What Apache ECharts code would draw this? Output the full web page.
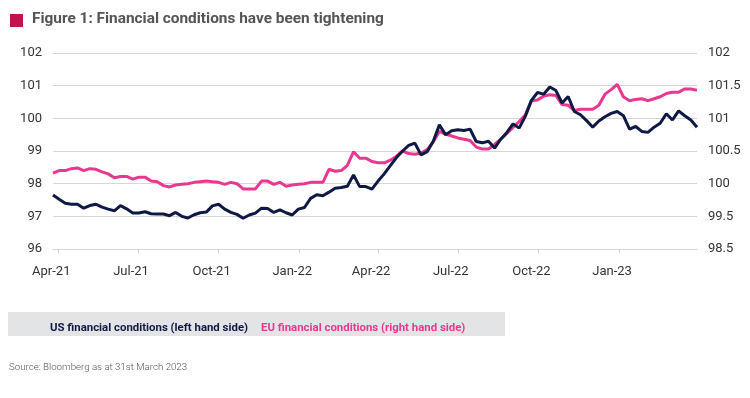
<!DOCTYPE html>
<html lang="en">
<head>
    <meta charset="UTF-8">
    <title>Financial conditions</title>
    <script src="https://cdn.jsdelivr.net/npm/echarts@6/dist/echarts.min.js"></script>
    <style>
        body { margin: 0; background: #fff; }
    </style>
</head>
<body>
    <div id="main" style="width: 750px; height: 398px;"></div>
    <script>
        // weekly readings, first one on 26 Mar 2021, last on 31 Mar 2023
        const firstWeek = [2021, 2, 26];

        const usValues = [
            97.65, 97.52, 97.40, 97.37, 97.37, 97.25, 97.33, 97.37, 97.28, 97.22,
            97.17, 97.33, 97.23, 97.10, 97.10, 97.14, 97.08, 97.07, 97.07, 97.02,
            97.12, 97.00, 96.95, 97.05, 97.11, 97.13, 97.32, 97.37, 97.22, 97.12,
            97.06, 96.94, 97.04, 97.10, 97.25, 97.24, 97.12, 97.20, 97.11, 97.04,
            97.22, 97.27, 97.55, 97.66, 97.63, 97.74, 97.86, 97.88, 97.92, 98.27,
            97.91, 97.91, 97.83, 98.08, 98.30, 98.55, 98.80, 99.00, 99.17, 99.24,
            98.88, 98.98, 99.30, 99.80, 99.50, 99.62, 99.65, 99.63, 99.67, 99.29,
            99.25, 99.30, 99.09, 99.36, 99.57, 99.83, 99.70, 100.06, 100.55, 100.79,
            100.74, 100.96, 100.85, 100.47, 100.67, 100.21, 100.11, 99.93, 99.73, 99.92,
            100.05, 100.15, 100.21, 100.08, 99.67, 99.75, 99.60, 99.57, 99.73, 99.85,
            100.14, 99.95, 100.23, 100.08, 99.95, 99.73
        ];

        const euValues = [
            100.16, 100.20, 100.20, 100.23, 100.24, 100.20, 100.23, 100.22, 100.18, 100.15,
            100.09, 100.11, 100.11, 100.07, 100.10, 100.10, 100.04, 100.03, 99.97, 99.95,
            99.98, 99.99, 100.00, 100.02, 100.03, 100.04, 100.03, 100.02, 99.99, 100.02,
            100.00, 99.92, 99.92, 99.92, 100.04, 100.04, 99.99, 100.02, 99.96, 99.98,
            99.99, 100.00, 100.02, 100.02, 100.02, 100.22, 100.19, 100.20, 100.28, 100.49,
            100.39, 100.39, 100.34, 100.32, 100.32, 100.36, 100.42, 100.50, 100.46, 100.45,
            100.47, 100.52, 100.64, 100.80, 100.76, 100.73, 100.70, 100.68, 100.66, 100.56,
            100.53, 100.53, 100.60, 100.68, 100.77, 100.86, 100.95, 101.05, 101.27, 101.28,
            101.34, 101.36, 101.35, 101.21, 101.20, 101.12, 101.14, 101.14, 101.14, 101.20,
            101.37, 101.44, 101.52, 101.33, 101.27, 101.29, 101.30, 101.27, 101.30, 101.33,
            101.38, 101.40, 101.40, 101.45, 101.45, 101.43
        ];

        const tickDates = ['2021-04-01', '2021-07-01', '2021-10-01', '2022-01-01',
                           '2022-04-01', '2022-07-01', '2022-10-01', '2023-01-01'];
        const tickLabels = ['Apr-21', 'Jul-21', 'Oct-21', 'Jan-22', 'Apr-22', 'Jul-22', 'Oct-22', 'Jan-23'];
        const rightTickLabels = ['98.5', '99.5', '100', '100.5', '101', '101.5', '102'];

        const usName = 'US financial conditions (left hand side)';
        const euName = 'EU financial conditions (right hand side)';
        const navy = '#0f1944';
        const pink = '#e8388f';
        const font = 'Roboto, "Noto Sans", sans-serif';

        const weeks = usValues.map((v, i) => new Date(firstWeek[0], firstWeek[1], firstWeek[2] + 7 * i).getTime());
        const tickTimes = tickDates.map(d => new Date(d + 'T00:00:00').getTime());

        const option = {
            animation: false,
            textStyle: { fontFamily: font },
            grid: { left: 53, right: 53, top: 53, bottom: 149, containLabel: false, outerBoundsMode: 'none' },
            graphic: [
                { type: 'rect', left: 10, top: 14, shape: { width: 13, height: 13 }, style: { fill: '#c3134f' } },
                {
                    type: 'text', left: 32, top: 12,
                    style: { text: 'Figure 1: Financial conditions have been tightening', fill: '#555', font: 'bold 15.4px ' + font }
                },
                { type: 'rect', left: 8, top: 312, shape: { width: 497, height: 24 }, style: { fill: '#e3e4e6' }, z: -1 },
                {
                    type: 'text', left: 9, top: 363,
                    style: { text: 'Source: Bloomberg as at 31st March 2023', fill: '#555', font: '300 9.7px ' + font }
                }
            ],
            legend: {
                left: 40, top: 316,
                icon: 'none', itemWidth: 0, itemHeight: 14, itemGap: 8,
                textStyle: { fontSize: 11.4, fontWeight: 'bold', fontFamily: font },
                data: [
                    { name: usName, textStyle: { color: navy } },
                    { name: euName, textStyle: { color: pink } }
                ]
            },
            xAxis: {
                type: 'value',
                min: weeks[0],
                max: weeks[weeks.length - 1],
                splitLine: { show: false },
                axisLine: { show: true, lineStyle: { color: '#d6d6d6', width: 1 } },
                axisTick: { show: true, length: 4, customValues: tickTimes, lineStyle: { color: '#cfcfcf' } },
                axisLabel: {
                    customValues: tickTimes,
                    color: '#333', fontSize: 13, margin: 16,
                    padding: [0, 14, 0, 0],
                    formatter: v => tickLabels[tickTimes.indexOf(v)] || ''
                }
            },
            yAxis: [
                {
                    type: 'value', min: 96, max: 102, interval: 1,
                    axisLine: { show: false }, axisTick: { show: false },
                    splitLine: { lineStyle: { color: '#d6d6d6', width: 1 } },
                    axisLabel: { color: '#333', fontSize: 13, margin: 11 }
                },
                {
                    type: 'value', min: 99, max: 102, interval: 0.5,
                    axisLine: { show: false }, axisTick: { show: false },
                    splitLine: { show: false },
                    axisLabel: {
                        color: '#333', fontSize: 13, margin: 11,
                        formatter: v => rightTickLabels[Math.round((v - 99) / 0.5)]
                    }
                }
            ],
            series: [
                {
                    name: euName, type: 'line', yAxisIndex: 1, symbol: 'none',
                    lineStyle: { color: pink, width: 3 }, itemStyle: { color: pink },
                    data: euValues.map((v, i) => [weeks[i], v])
                },
                {
                    name: usName, type: 'line', yAxisIndex: 0, symbol: 'none',
                    lineStyle: { color: navy, width: 3 }, itemStyle: { color: navy },
                    data: usValues.map((v, i) => [weeks[i], v])
                }
            ]
        };

        const myChart = echarts.init(document.getElementById('main'));
        myChart.setOption(option);
    </script>
</body>
</html>
